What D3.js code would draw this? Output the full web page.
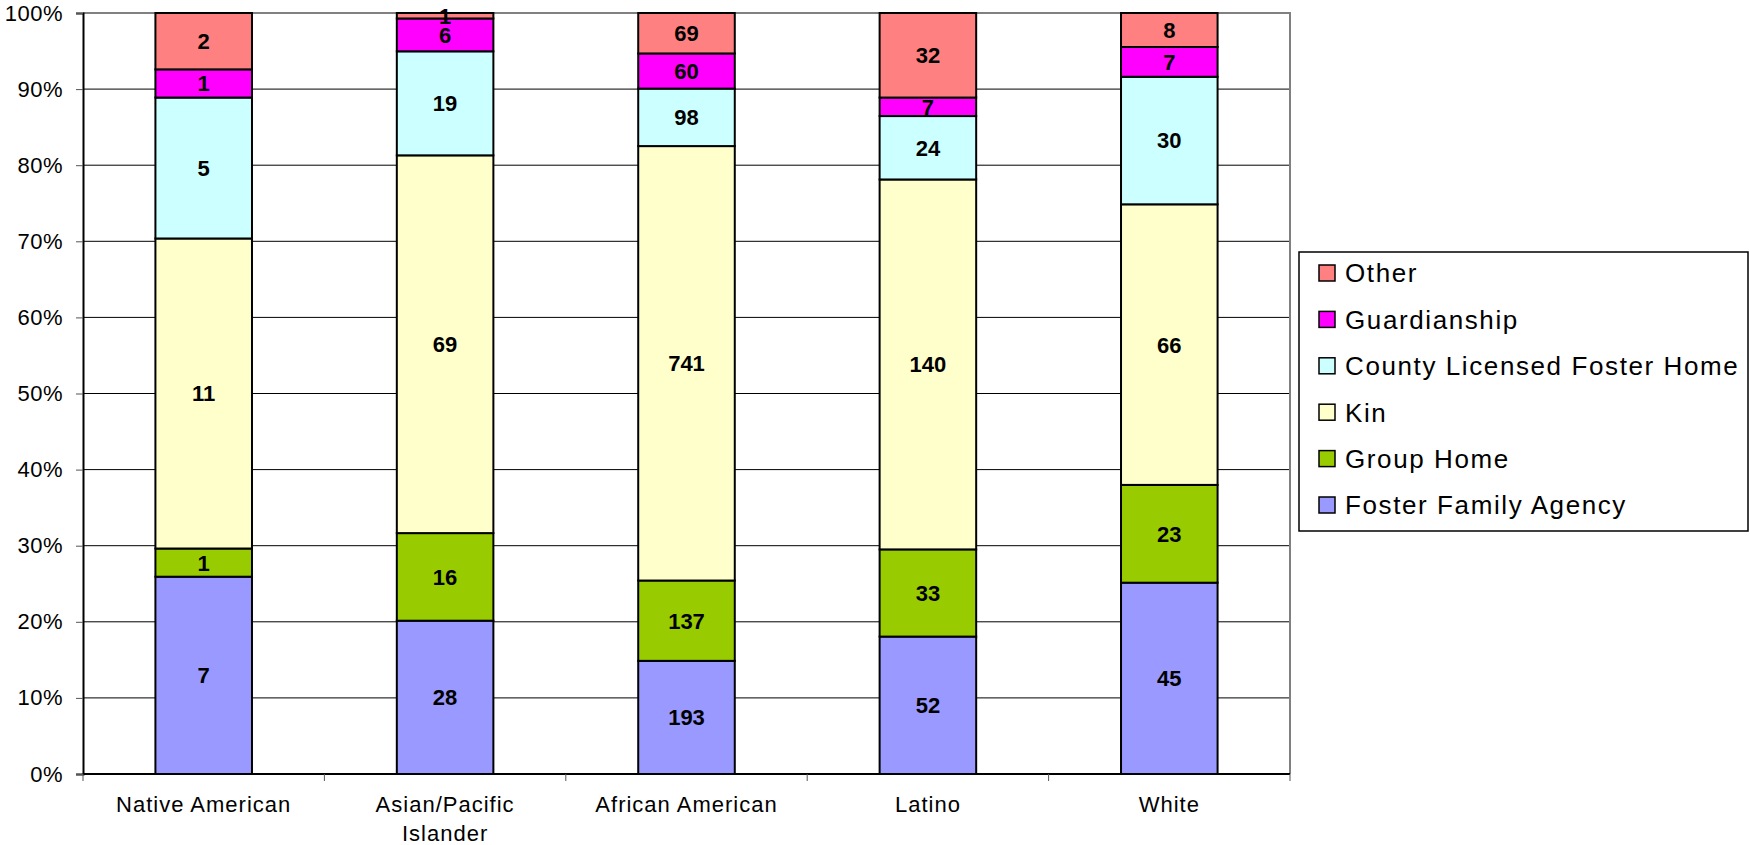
<!DOCTYPE html>
<html>
  <head>
    <script src="https://cdn.jsdelivr.net/npm/d3@7/dist/d3.min.js" charset="utf-8"></script>
    <style>
      body { margin: 0; background: #fff; }
      text { font-family: "Liberation Sans", Arial, sans-serif; }
    </style>
  </head>
  <body>
    <svg id="chart" width="1750" height="845"></svg>
    <script>
      var categories = ["Native American", "Asian/Pacific Islander", "African American", "Latino", "White"];
      var seriesNames = ["Foster Family Agency", "Group Home", "Kin", "County Licensed Foster Home", "Guardianship", "Other"];
      var fosterFamily = [7, 28, 193, 52, 45];
      var groupHome = [1, 16, 137, 33, 23];
      var kin = [11, 69, 741, 140, 66];
      var countyHome = [5, 19, 98, 24, 30];
      var guardianship = [1, 6, 60, 7, 7];
      var other = [2, 1, 69, 32, 8];
      var colors = ["#9999ff", "#99cc00", "#ffffcc", "#ccffff", "#ff00ff", "#ff8080"];
      var yTicks = [0, 0.1, 0.2, 0.3, 0.4, 0.5, 0.6, 0.7, 0.8, 0.9, 1];

      var allSeries = [fosterFamily, groupHome, kin, countyHome, guardianship, other];
      var rows = categories.map((c, i) => {
        var r = {cat: c};
        seriesNames.forEach((s, j) => r[s] = allSeries[j][i]);
        return r;
      });

      var m = {left: 83, right: 1290, top: 13, bottom: 774};
      var svg = d3.select("#chart");

      var x = d3.scaleBand().domain(categories).range([m.left, m.right]).paddingInner(0).paddingOuter(0);
      var y = d3.scaleLinear().domain([0, 1]).range([m.bottom, m.top]);
      var color = d3.scaleOrdinal().domain(seriesNames).range(colors);

      var stack = d3.stack().keys(seriesNames).offset(d3.stackOffsetExpand)(rows);

      // gridlines
      svg.append("g").selectAll("line").data(yTicks.filter(d => d > 0 && d < 1)).enter().append("line")
        .attr("x1", m.left).attr("x2", m.right)
        .attr("y1", d => y(d)).attr("y2", d => y(d))
        .attr("stroke", "#000").attr("stroke-width", 1);

      // plot frame top/right
      svg.append("path")
        .attr("d", `M${m.left},${y(1)}H${m.right}V${m.bottom}`)
        .attr("fill", "none").attr("stroke", "#808080").attr("stroke-width", 2);

      var barW = x.bandwidth() * 0.4;
      var bw = x.bandwidth();

      var layers = svg.append("g").selectAll("g").data(stack).enter().append("g")
        .attr("fill", d => color(d.key));

      layers.selectAll("rect").data(d => d.map(p => ({p: p, key: d.key}))).enter().append("rect")
        .attr("x", d => x(d.p.data.cat) + (bw - barW) / 2)
        .attr("width", barW)
        .attr("y", d => y(d.p[1]))
        .attr("height", d => y(d.p[0]) - y(d.p[1]))
        .attr("stroke", "#000").attr("stroke-width", 2);

      // value labels
      layers.selectAll("text").data(d => d.map(p => ({p: p, key: d.key}))).enter().append("text")
        .attr("x", d => x(d.p.data.cat) + bw / 2)
        .attr("y", d => (y(d.p[0]) + y(d.p[1])) / 2)
        .attr("dy", "0.36em")
        .attr("text-anchor", "middle")
        .attr("font-size", 22).attr("font-weight", "bold").attr("fill", "#000")
        .text(d => d.p.data[d.key]);

      // y axis
      var yAxis = svg.append("g").attr("transform", `translate(${m.left},0)`)
        .call(d3.axisLeft(y).tickValues(yTicks).tickFormat(d3.format(".0%")).tickSize(7).tickPadding(13));
      yAxis.select(".domain").attr("stroke", "#000").attr("stroke-width", 2);
      yAxis.selectAll(".tick line").attr("stroke", "#555");
      yAxis.selectAll("text").attr("font-size", 22).attr("letter-spacing", "0.5px")
        .attr("font-family", "Liberation Sans, Arial, sans-serif").attr("fill", "#000");

      // x axis
      var xAxis = svg.append("g").attr("transform", `translate(0,${m.bottom})`);
      xAxis.append("line").attr("x1", m.left).attr("x2", m.right).attr("y1", 0).attr("y2", 0)
        .attr("stroke", "#000").attr("stroke-width", 2);
      xAxis.selectAll("line.tk").data(categories.concat(["end"])).enter().append("line")
        .attr("class", "tk")
        .attr("x1", (d, i) => i < categories.length ? x(d) : m.right)
        .attr("x2", (d, i) => i < categories.length ? x(d) : m.right)
        .attr("y1", 0).attr("y2", 7).attr("stroke", "#555");
      var labels = xAxis.selectAll("text").data(categories).enter().append("text")
        .attr("x", d => x(d) + bw / 2)
        .attr("text-anchor", "middle")
        .attr("font-size", 22).attr("letter-spacing", "1px").attr("fill", "#000");
      labels.each(function(d) {
        var parts = d === "Asian/Pacific Islander" ? ["Asian/Pacific", "Islander"] : [d];
        var t = d3.select(this);
        parts.forEach((p, i) => {
          t.append("tspan").attr("x", x(d) + bw / 2).attr("y", 38 + i * 29).text(p);
        });
      });

      // legend
      var lg = svg.append("g").attr("transform", "translate(1299,252)");
      lg.append("rect").attr("width", 449).attr("height", 279)
        .attr("fill", "#fff").attr("stroke", "#000").attr("stroke-width", 1.5);
      var items = lg.selectAll("g.item").data(seriesNames.slice().reverse()).enter().append("g")
        .attr("class", "item")
        .attr("transform", (d, i) => `translate(0,${21 + i * 46.4})`);
      items.append("rect").attr("x", 20).attr("y", -8).attr("width", 16).attr("height", 16)
        .attr("fill", d => color(d)).attr("stroke", "#000").attr("stroke-width", 1.5);
      items.append("text").attr("x", 46).attr("dy", "0.36em")
        .attr("font-size", 26).attr("letter-spacing", "1.6px").attr("fill", "#000")
        .text(d => d);
    </script>
  </body>
</html>
